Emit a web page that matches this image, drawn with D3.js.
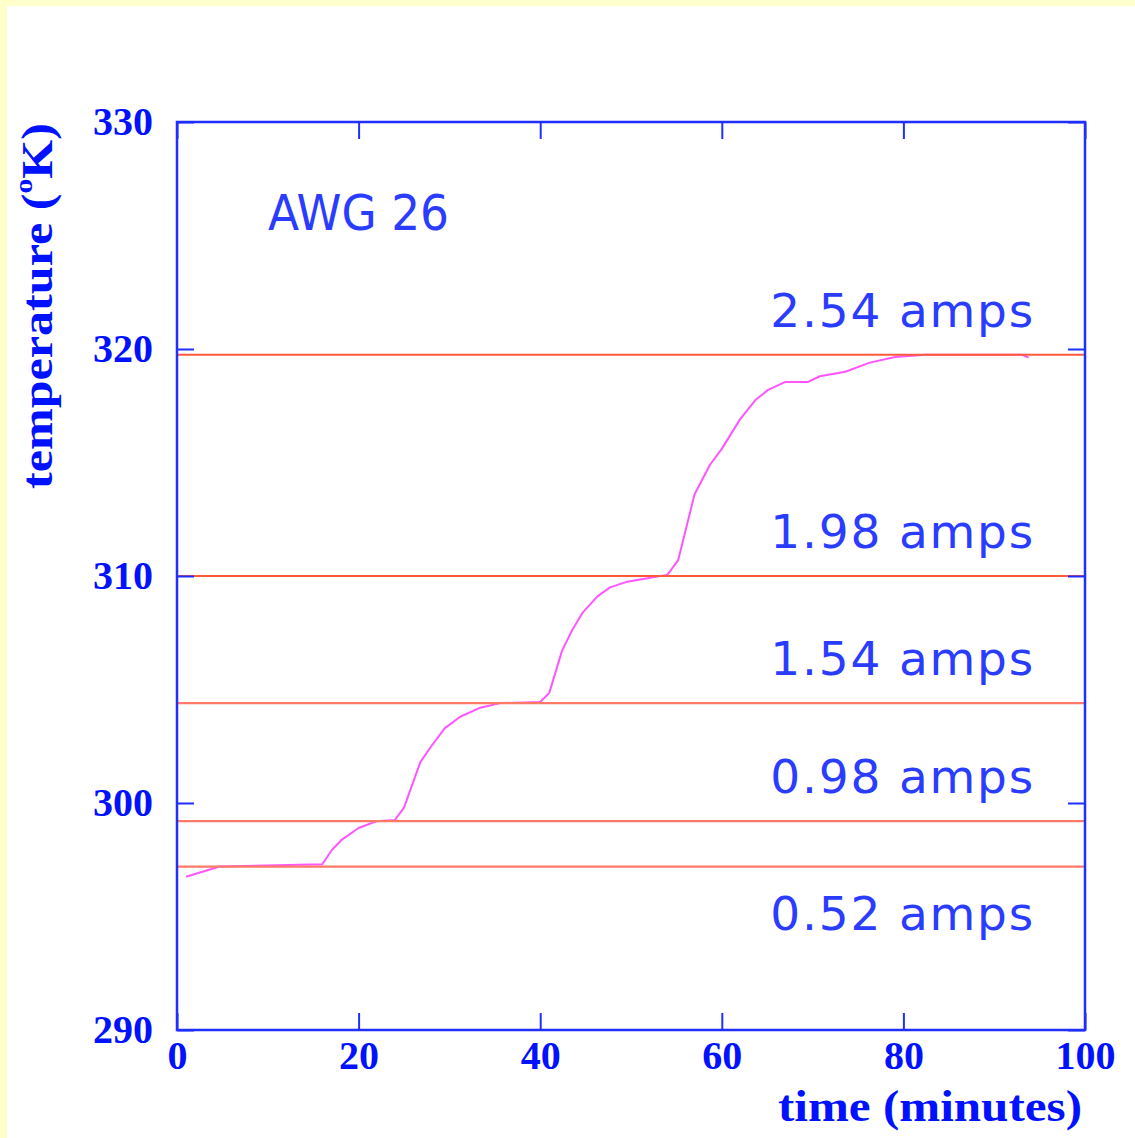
<!DOCTYPE html>
<html>
<head>
<meta charset="utf-8">
<script src="https://cdn.jsdelivr.net/npm/d3@7"></script>
<style>
  html, body { margin: 0; padding: 0; background: #ffffcc; }
  svg { display: block; }
</style>
</head>
<body>
<div id="plotholder"></div>
<script>
// heating curve of AWG 26 wire, temperature vs time
const TIMES = [1.0, 4.7, 16.0, 17.1, 18.2, 20.0, 22.0, 24.0, 25.0, 26.8, 28.0, 29.5, 31.2,
  33.4, 35.6, 40.0, 41.0, 42.4, 43.5, 44.7, 46.3, 47.7, 49.6, 51.8, 54.0, 55.2, 57.0,
  58.7, 60.0, 62.0, 63.7, 65.1, 67.0, 69.5, 70.8, 73.6, 76.3, 79.1, 82.4, 88.0, 93.0, 93.8]
const TEMPS = [296.75, 297.2, 297.3, 297.95, 298.4, 298.9, 299.2, 299.25, 299.8, 301.8, 302.5,
  303.3, 303.8, 304.2, 304.4, 304.45, 304.85, 306.7, 307.6, 308.4, 309.1, 309.5, 309.75,
  309.9, 310.05, 310.7, 313.6, 314.9, 315.6, 316.9, 317.75, 318.2, 318.55, 318.55, 318.8,
  319.0, 319.4, 319.65, 319.75, 319.75, 319.75, 319.62]

// equilibrium temperature reached at each current
const CURRENTS = ['2.54 amps', '1.98 amps', '1.54 amps', '0.98 amps', '0.52 amps']
const LEVELS = [319.75, 310.0, 304.4, 299.2, 297.2]

const XTICKS = [0, 20, 40, 60, 80, 100]
const YTICKS = [290, 300, 310, 320, 330]
const WIRE = 'AWG 26'

const W = 1135, H = 1138
const margin = { left: 177, top: 122, right: 1085, bottom: 1030 }
const blue = '#1f2fff'
const serif = 'Liberation Serif, Times New Roman, serif'

const svg = d3.select('#plotholder').append('svg')
  .attr('width', W)
  .attr('height', H)

svg.append('rect')
  .attr('x', 7).attr('y', 6)
  .attr('width', W - 7).attr('height', H - 6)
  .attr('fill', 'white')

const x = d3.scaleLinear().domain([0, 100]).range([margin.left, margin.right])
const y = d3.scaleLinear().domain([290, 330]).range([margin.bottom, margin.top])

// the curve goes under the level lines, like the original
const line = d3.line()
  .x((d, i) => x(TIMES[i]))
  .y(d => y(d))

svg.append('path')
  .datum(TEMPS)
  .attr('d', line)
  .attr('fill', 'none')
  .attr('stroke', '#ff55ff')
  .attr('stroke-width', 2)
  .attr('stroke-linejoin', 'round')

svg.selectAll('line.level')
  .data(LEVELS)
  .enter()
  .append('line')
  .attr('class', 'level')
  .attr('x1', x(0)).attr('x2', x(100))
  .attr('y1', d => y(d)).attr('y2', d => y(d))
  .attr('stroke', (d, i) => i < 2 ? '#ff5a3c' : '#ff7a66')
  .attr('stroke-width', (d, i) => i < 2 ? 2 : 2.2)

svg.selectAll('text.amps')
  .data(CURRENTS)
  .enter()
  .append('text')
  .attr('class', 'amps')
  .attr('x', 1035)
  .attr('y', (d, i) => i === CURRENTS.length - 1 ? y(LEVELS[i]) + 63 : y(LEVELS[i]) - 28)
  .attr('text-anchor', 'end')
  .attr('font-family', 'DejaVu Sans')
  .attr('font-size', 47)
  .attr('letter-spacing', 1.8)
  .attr('fill', '#2a3cff')
  .text(d => d)

svg.append('text')
  .attr('x', 268).attr('y', 230)
  .attr('font-family', 'DejaVu Sans')
  .attr('font-size', 49)
  .attr('textLength', 181)
  .attr('lengthAdjust', 'spacingAndGlyphs')
  .attr('fill', '#2a3cff')
  .text(WIRE)

// axes, ticks point inward on all four sides
const tick = 17
const styleaxis = (g, labels) => {
  g.select('.domain').remove()
  g.selectAll('.tick line').attr('stroke', blue).attr('stroke-width', 2)
  g.selectAll('.tick text')
    .attr('fill', '#0011ff')
    .attr('font-family', serif)
    .attr('font-weight', 'bold')
    .attr('font-size', 40)
  if (!labels) g.selectAll('.tick text').remove()
}

svg.append('g')
  .attr('transform', `translate(0,${margin.bottom})`)
  .call(d3.axisBottom(x).tickValues(XTICKS).tickSizeInner(-tick).tickSizeOuter(0).tickPadding(11))
  .call(g => styleaxis(g, true))
svg.append('g')
  .attr('transform', `translate(0,${margin.top})`)
  .call(d3.axisTop(x).tickValues(XTICKS).tickSizeInner(-tick).tickSizeOuter(0))
  .call(g => styleaxis(g, false))
svg.append('g')
  .attr('transform', `translate(${margin.left},0)`)
  .call(d3.axisLeft(y).tickValues(YTICKS).tickSizeInner(-tick).tickSizeOuter(0).tickPadding(24))
  .call(g => styleaxis(g, true))
svg.append('g')
  .attr('transform', `translate(${margin.right},0)`)
  .call(d3.axisRight(y).tickValues(YTICKS).tickSizeInner(-tick).tickSizeOuter(0))
  .call(g => styleaxis(g, false))

svg.append('rect')
  .attr('x', margin.left).attr('y', margin.top)
  .attr('width', margin.right - margin.left)
  .attr('height', margin.bottom - margin.top)
  .attr('fill', 'none')
  .attr('stroke', blue)
  .attr('stroke-width', 2.5)

// axis titles
svg.append('text')
  .attr('x', 1082).attr('y', 1121)
  .attr('text-anchor', 'end')
  .attr('font-family', serif)
  .attr('font-weight', 'bold')
  .attr('font-size', 44)
  .attr('textLength', 304)
  .attr('lengthAdjust', 'spacingAndGlyphs')
  .attr('fill', '#0011ff')
  .text('time (minutes)')

const ytitle = svg.append('text')
  .attr('transform', 'translate(52,123) rotate(-90)')
  .attr('text-anchor', 'end')
  .attr('font-family', serif)
  .attr('font-weight', 'bold')
  .attr('font-size', 44)
  .attr('textLength', 366)
  .attr('lengthAdjust', 'spacingAndGlyphs')
  .attr('fill', '#0011ff')
ytitle.append('tspan').text('temperature (')
ytitle.append('tspan').attr('dy', -20).attr('font-size', 26).text('o')
ytitle.append('tspan').attr('dy', 20).text('K)')
</script>
</body>
</html>
